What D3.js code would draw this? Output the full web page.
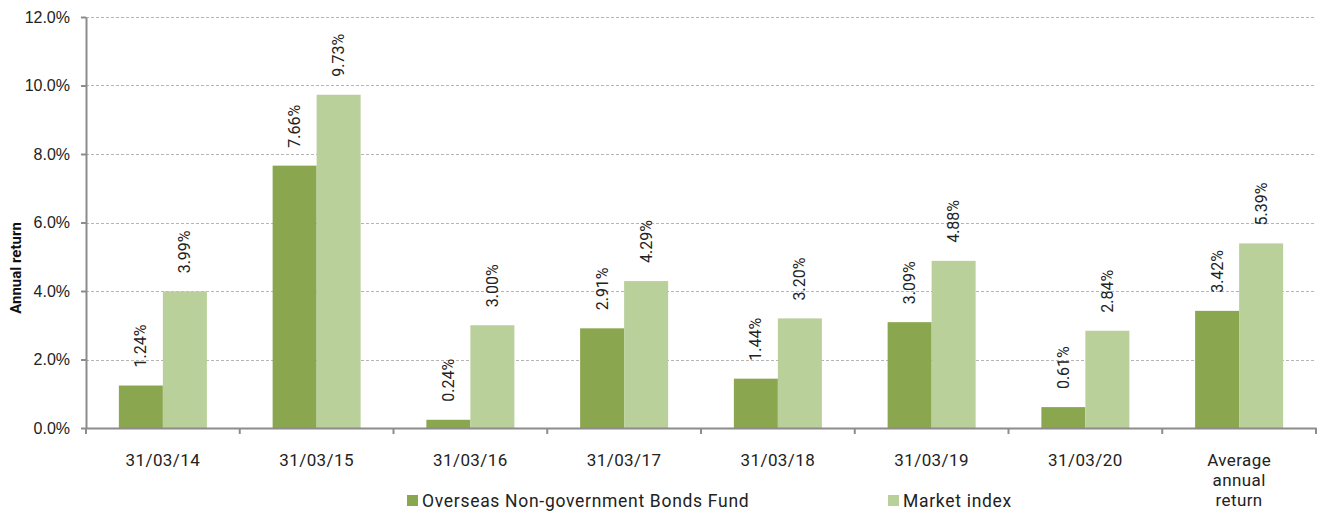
<!DOCTYPE html>
<html>
<head>
<meta charset="utf-8">
<script src="https://cdn.jsdelivr.net/npm/d3@7"></script>
<style>
  body { margin: 0; background: #fff; }
  svg { font-family: Roboto, "Noto Sans", sans-serif; }
</style>
</head>
<body>
<div id="chart"></div>
<script>
// chart data
const categories = ["31/03/14", "31/03/15", "31/03/16", "31/03/17", "31/03/18", "31/03/19", "31/03/20", "Average annual return"];
const seriesNames = ["Overseas Non-government Bonds Fund", "Market index"];
const fundValues = [1.24, 7.66, 0.24, 2.91, 1.44, 3.09, 0.61, 3.42];
const indexValues = [3.99, 9.73, 3.00, 4.29, 3.20, 4.88, 2.84, 5.39];
const yTicks = [0, 2, 4, 6, 8, 10, 12];
const colours = ["#8aa64f", "#b9d09a"];

const width = 1319;
const height = 514;
const margin = {top: 17, right: 3, bottom: 86, left: 86};

const svg = d3.select('#chart')
    .append('svg')
    .attr('width', width)
    .attr('height', height);

const x0 = d3.scaleBand()
    .domain(categories)
    .range([margin.left, width - margin.right])
    .paddingInner(0)
    .paddingOuter(0);

const x1 = d3.scaleBand()
    .domain(seriesNames)
    .range([0, x0.bandwidth()])
    .paddingOuter(0.747)
    .paddingInner(0);

const y = d3.scaleLinear()
    .domain([0, 12])
    .range([height - margin.bottom, margin.top]);

// gridlines
svg.append('g')
    .selectAll('line')
    .data(yTicks.filter(d => d > 0))
    .enter()
    .append('line')
    .attr('x1', margin.left)
    .attr('x2', width - margin.right)
    .attr('y1', d => Math.round(y(d)) + 0.5)
    .attr('y2', d => Math.round(y(d)) + 0.5)
    .attr('stroke', '#b5b5b5')
    .attr('stroke-dasharray', '3,2');

// bars
const rows = categories.map((c, i) => ({cat: c, values: [fundValues[i], indexValues[i]]}));

const groups = svg.selectAll('.grp')
    .data(rows)
    .enter()
    .append('g')
    .attr('transform', d => `translate(${x0(d.cat)},0)`);

groups.selectAll('rect')
    .data(d => d.values.map((v, j) => ({name: seriesNames[j], v: v, j: j})))
    .enter()
    .append('rect')
    .attr('x', d => x1(d.name))
    .attr('width', x1.bandwidth())
    .attr('y', d => y(d.v))
    .attr('height', d => y(0) - y(d.v))
    .attr('fill', d => colours[d.j]);

// value labels
groups.selectAll('text')
    .data(d => d.values.map((v, j) => ({name: seriesNames[j], v: v})))
    .enter()
    .append('text')
    .attr('transform', d => `translate(${x1(d.name) + x1.bandwidth() / 2 + 5.5},${y(d.v) - 18}) rotate(-90)`)
    .attr('font-size', 16)
    .attr('fill', '#222')
    .text(d => d.v.toFixed(2) + '%');

// y axis
const yAxis = svg.append('g')
    .attr('transform', `translate(${margin.left},0)`)
    .call(d3.axisLeft(y).tickValues(yTicks).tickFormat(d => d.toFixed(1) + '%').tickSize(5).tickSizeOuter(0));
yAxis.select('.domain').attr('stroke', '#8c8c8c').attr('stroke-width', 2);
yAxis.selectAll('.tick line').attr('stroke', '#8c8c8c').attr('stroke-width', 2);
yAxis.selectAll('.tick text').attr('font-size', 16).attr('fill', '#222').attr('x', -16);

// x axis
const xAxis = svg.append('g')
    .attr('transform', `translate(0,${y(0)})`)
    .call(d3.axisBottom(x0).tickSize(0).tickFormat(''));
xAxis.select('.domain').attr('stroke', '#8c8c8c').attr('stroke-width', 2);

// x tick marks on band edges
svg.append('g')
    .selectAll('line')
    .data(categories.concat(['end']))
    .enter()
    .append('line')
    .attr('x1', (d, i) => margin.left + i * x0.bandwidth())
    .attr('x2', (d, i) => margin.left + i * x0.bandwidth())
    .attr('y1', y(0))
    .attr('y2', y(0) + 6)
    .attr('stroke', '#8c8c8c')
    .attr('stroke-width', 2);

// x labels
const xLabels = svg.append('g')
    .selectAll('text')
    .data(categories)
    .enter()
    .append('text')
    .attr('x', d => x0(d) + x0.bandwidth() / 2)
    .attr('y', 466)
    .attr('text-anchor', 'middle')
    .attr('font-size', 17)
    .attr('letter-spacing', 0.4)
    .attr('fill', '#222');

xLabels.each(function(d) {
    const words = d === "Average annual return" ? d.split(' ') : [d];
    const t = d3.select(this);
    words.forEach((w, k) => {
        t.append('tspan')
            .attr('x', x0(d) + x0.bandwidth() / 2)
            .attr('dy', k === 0 ? 0 : 20)
            .text(w);
    });
});

// y axis title
svg.append('text')
    .attr('transform', 'translate(21,268) rotate(-90)')
    .attr('text-anchor', 'middle')
    .attr('font-size', 15)
    .attr('font-weight', 'bold')
    .attr('fill', '#111')
    .text('Annual return');

// legend
const legendX = [407, 888];
const legend = svg.append('g')
    .selectAll('g')
    .data(seriesNames)
    .enter()
    .append('g')
    .attr('transform', (d, i) => `translate(${legendX[i]},495)`);

legend.append('rect')
    .attr('width', 11)
    .attr('height', 11)
    .attr('fill', (d, i) => colours[i]);

legend.append('text')
    .attr('x', 15)
    .attr('y', 12)
    .attr('font-size', 17.5)
    .attr('letter-spacing', 0.7)
    .attr('fill', '#222')
    .text(d => d);
</script>
</body>
</html>
